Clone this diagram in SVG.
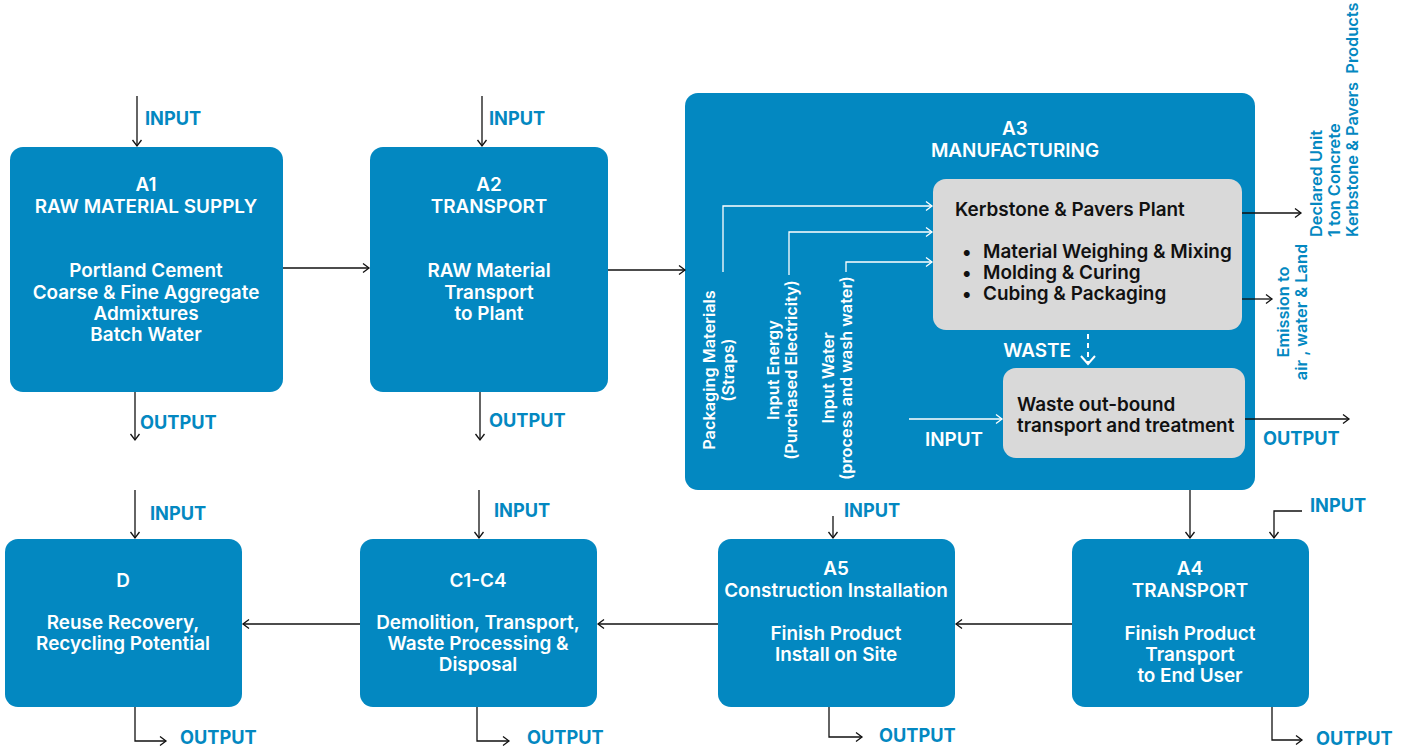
<svg xmlns="http://www.w3.org/2000/svg" width="1412" height="749" viewBox="0 0 1412 749">
<defs>
<style>
.box{fill:#0388c1}
.gray{fill:#d9d9d9}
.wt{fill:#ffffff;font-family:Inter,"Liberation Sans",sans-serif;font-weight:600;font-size:18.9px;text-anchor:middle}
.bt{fill:#111111;font-family:Inter,"Liberation Sans",sans-serif;font-weight:600;font-size:18.9px}
.lbl{fill:#0388c1;font-family:Inter,"Liberation Sans",sans-serif;font-weight:700;font-size:18.2px}
.rot{fill:#ffffff;font-family:Inter,"Liberation Sans",sans-serif;font-weight:600;font-size:16.3px;text-anchor:middle}
.rotb{fill:#0388c1;font-family:Inter,"Liberation Sans",sans-serif;font-weight:600;font-size:16.4px}
.k{fill:none;stroke:#111111;stroke-width:1.3}
.w{fill:none;stroke:#ffffff;stroke-width:1.3}
</style>
<marker id="ak" markerUnits="userSpaceOnUse" markerWidth="10" markerHeight="12" refX="7" refY="6" orient="auto" viewBox="0 0 10 12">
<path d="M1,1.5 L7,6 L1,10.5" fill="none" stroke="#111111" stroke-width="1.3"/>
</marker>
<marker id="aw" markerUnits="userSpaceOnUse" markerWidth="10" markerHeight="12" refX="7" refY="6" orient="auto" viewBox="0 0 10 12">
<path d="M1,1.5 L7,6 L1,10.5" fill="none" stroke="#ffffff" stroke-width="1.3"/>
</marker>
<marker id="awd" markerUnits="userSpaceOnUse" markerWidth="14" markerHeight="16" refX="9" refY="8" orient="auto" viewBox="0 0 14 16">
<path d="M1,1 L9,8 L1,15" fill="none" stroke="#ffffff" stroke-width="2"/>
</marker>
</defs>
<rect width="1412" height="749" fill="#ffffff"/>

<g id="A1">
<rect class="box" x="10" y="147" width="273" height="245" rx="13"/>
<text class="wt" x="146" y="191">A1</text>
<text class="wt" x="146" y="213">RAW MATERIAL SUPPLY</text>
<text class="wt" x="146" y="277">Portland Cement</text>
<text class="wt" x="146" y="299">Coarse &amp; Fine Aggregate</text>
<text class="wt" x="146" y="320">Admixtures</text>
<text class="wt" x="146" y="341">Batch Water</text>
</g>

<g id="A2">
<rect class="box" x="370" y="147" width="238" height="245" rx="13"/>
<text class="wt" x="489" y="191">A2</text>
<text class="wt" x="489" y="213">TRANSPORT</text>
<text class="wt" x="489" y="277">RAW Material</text>
<text class="wt" x="489" y="299">Transport</text>
<text class="wt" x="489" y="320">to Plant</text>
</g>

<g id="A3">
<rect class="box" x="685" y="93" width="570" height="397" rx="13"/>
<text class="wt" x="1015" y="135">A3</text>
<text class="wt" x="1015" y="157">MANUFACTURING</text>
<text class="rot" transform="translate(715,370) rotate(-90)">Packaging Materials</text>
<text class="rot" transform="translate(734,370) rotate(-90)">(Straps)</text>
<text class="rot" transform="translate(779,370) rotate(-90)">Input Energy</text>
<text class="rot" transform="translate(797,370) rotate(-90)">(Purchased Electricity)</text>
<text class="rot" transform="translate(834,378) rotate(-90)">Input Water</text>
<text class="rot" transform="translate(852,378) rotate(-90)">(process and wash water)</text>
<text class="wt" x="954" y="446">INPUT</text>
<text class="wt" x="1037" y="357">WASTE</text>
</g>

<g id="plant">
<rect class="gray" x="933" y="179" width="309" height="151" rx="13"/>
<text class="bt" x="955" y="216">Kerbstone &amp; Pavers Plant</text>
<text class="bt" x="962" y="258">•</text>
<text class="bt" x="983" y="258">Material Weighing &amp; Mixing</text>
<text class="bt" x="962" y="279">•</text>
<text class="bt" x="983" y="279">Molding &amp; Curing</text>
<text class="bt" x="962" y="300">•</text>
<text class="bt" x="983" y="300">Cubing &amp; Packaging</text>
</g>

<g id="waste">
<rect class="gray" x="1003" y="368" width="242" height="90" rx="13"/>
<text class="bt" x="1017" y="411">Waste out-bound</text>
<text class="bt" x="1017" y="432">transport and treatment</text>
</g>

<g id="A4">
<rect class="box" x="1072" y="539" width="237" height="168" rx="13"/>
<text class="wt" x="1190" y="575">A4</text>
<text class="wt" x="1190" y="597">TRANSPORT</text>
<text class="wt" x="1190" y="640">Finish Product</text>
<text class="wt" x="1190" y="661">Transport</text>
<text class="wt" x="1190" y="682">to End User</text>
</g>

<g id="A5">
<rect class="box" x="718" y="539" width="237" height="168" rx="13"/>
<text class="wt" x="836" y="575">A5</text>
<text class="wt" x="836" y="597">Construction Installation</text>
<text class="wt" x="836" y="640">Finish Product</text>
<text class="wt" x="836" y="661">Install on Site</text>
</g>

<g id="C1C4">
<rect class="box" x="360" y="539" width="237" height="168" rx="13"/>
<text class="wt" x="478" y="587">C1-C4</text>
<text class="wt" x="478" y="629">Demolition, Transport,</text>
<text class="wt" x="478" y="650">Waste Processing &amp;</text>
<text class="wt" x="478" y="671">Disposal</text>
</g>

<g id="D">
<rect class="box" x="5" y="539" width="237" height="168" rx="13"/>
<text class="wt" x="123" y="587">D</text>
<text class="wt" x="123" y="629">Reuse Recovery,</text>
<text class="wt" x="123" y="650">Recycling Potential</text>
</g>

<g id="labels">
<text class="lbl" x="145" y="125">INPUT</text>
<text class="lbl" x="140" y="429">OUTPUT</text>
<text class="lbl" x="489" y="125">INPUT</text>
<text class="lbl" x="489" y="427">OUTPUT</text>
<text class="lbl" x="1263" y="445">OUTPUT</text>
<text class="lbl" x="150" y="520">INPUT</text>
<text class="lbl" x="180" y="744">OUTPUT</text>
<text class="lbl" x="494" y="517">INPUT</text>
<text class="lbl" x="527" y="744">OUTPUT</text>
<text class="lbl" x="844" y="517">INPUT</text>
<text class="lbl" x="879" y="742">OUTPUT</text>
<text class="lbl" x="1310" y="512">INPUT</text>
<text class="lbl" x="1316" y="745">OUTPUT</text>
<text class="rotb" text-anchor="middle" transform="translate(1289,312) rotate(-90)">Emission to</text>
<text class="rotb" text-anchor="middle" transform="translate(1307,312) rotate(-90)">air , water &amp; Land</text>
<text class="rotb" transform="translate(1322,237) rotate(-90)">Declared Unit</text>
<text class="rotb" transform="translate(1340,237) rotate(-90)">1 ton Concrete</text>
<text class="rotb" xml:space="preserve" transform="translate(1358,237) rotate(-90)">Kerbstone &amp; Pavers  Products</text>
</g>

<g id="connectors">
<path class="k" d="M137,96 V146" marker-end="url(#ak)"/>
<path class="k" d="M135,392 V440" marker-end="url(#ak)"/>
<path class="k" d="M283,268 H369" marker-end="url(#ak)"/>
<path class="k" d="M482,96 V146" marker-end="url(#ak)"/>
<path class="k" d="M480,392 V440" marker-end="url(#ak)"/>
<path class="k" d="M608,270 H685" marker-end="url(#ak)"/>
<path class="w" d="M723,272 V206 H932" marker-end="url(#aw)"/>
<path class="w" d="M789,275 V232 H932" marker-end="url(#aw)"/>
<path class="w" d="M846,272 V262 H932" marker-end="url(#aw)"/>
<path class="w" d="M909,419 H1002" marker-end="url(#aw)"/>
<path d="M1088,334 V364" fill="none" stroke="#ffffff" stroke-width="2" stroke-dasharray="5,4" marker-end="url(#awd)"/>
<path class="k" d="M1242,213 H1301" marker-end="url(#ak)"/>
<path class="k" d="M1242,299 H1272" marker-end="url(#ak)"/>
<path class="k" d="M1245,419 H1349" marker-end="url(#ak)"/>
<path class="k" d="M1190,490 V538" marker-end="url(#ak)"/>
<path class="k" d="M1302,511 H1274 V538" marker-end="url(#ak)"/>
<path class="k" d="M1272,707 V740 H1302" marker-end="url(#ak)"/>
<path class="k" d="M1072,624 H956" marker-end="url(#ak)"/>
<path class="k" d="M833,516 V538" marker-end="url(#ak)"/>
<path class="k" d="M829,707 V737 H862" marker-end="url(#ak)"/>
<path class="k" d="M718,624 H598" marker-end="url(#ak)"/>
<path class="k" d="M479,490 V538" marker-end="url(#ak)"/>
<path class="k" d="M477,707 V741 H509" marker-end="url(#ak)"/>
<path class="k" d="M360,624 H243" marker-end="url(#ak)"/>
<path class="k" d="M135,490 V538" marker-end="url(#ak)"/>
<path class="k" d="M135,707 V741 H166" marker-end="url(#ak)"/>
</g>
</svg>
